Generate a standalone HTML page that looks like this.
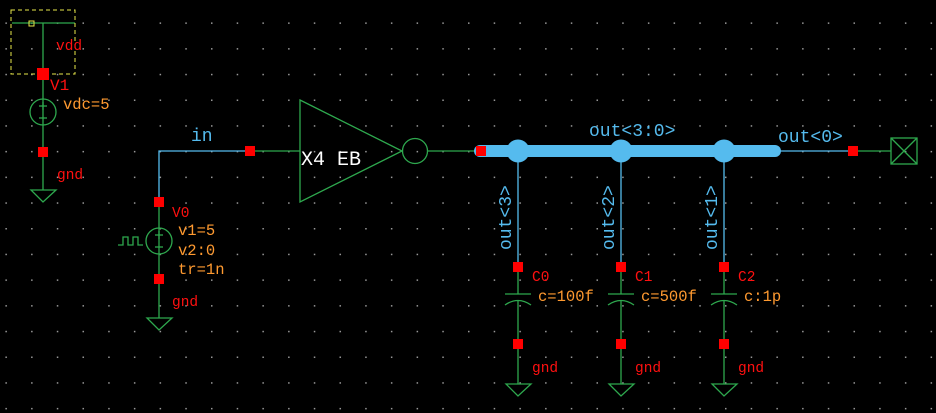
<!DOCTYPE html>
<html><head><meta charset="utf-8"><style>
html,body{margin:0;padding:0;background:#000;}
svg{display:block}
text{font-family:"Liberation Mono",monospace;font-size:14.5px}
.r{fill:#ff1010}.o{fill:#ff9a30;font-size:15.5px}.b{fill:#55bbee}
.big{font-size:18px}
</style></head><body>
<svg width="936" height="413" viewBox="0 0 936 413" xmlns="http://www.w3.org/2000/svg">
<defs><pattern id="g" x="5.4" y="22.4" width="25.7" height="25.7" patternUnits="userSpaceOnUse"><rect width="1.5" height="1.5" fill="#999"/></pattern></defs>
<rect width="936" height="413" fill="#000"/>
<rect width="936" height="413" fill="url(#g)"/>
<g stroke="#2ea84e" stroke-width="1.3" fill="none">
<line x1="12" y1="23" x2="75" y2="23"/>
<line x1="43" y1="23" x2="43" y2="190"/>
<circle cx="43" cy="112" r="13"/>
<line x1="39" y1="106" x2="47" y2="106"/><line x1="43" y1="102" x2="43" y2="110"/>
<line x1="39" y1="118" x2="47" y2="118"/>
<path d="M31 190 H56 L43 202 Z"/>
<line x1="159" y1="202" x2="159" y2="318"/>
<circle cx="159" cy="241" r="13"/>
<line x1="155" y1="235" x2="163" y2="235"/><line x1="159" y1="231" x2="159" y2="239"/>
<line x1="155" y1="247" x2="163" y2="247"/>
<path d="M118 245 H123 V237 H128 V245 H133 V237 H138 V245 H143"/>
<path d="M147 318 H172 L159 330 Z"/>
<line x1="250" y1="151" x2="300" y2="151"/>
<path d="M300 100 L402 151 L300 202 Z"/>
<circle cx="415" cy="151" r="12.5"/>
<line x1="428" y1="151" x2="480" y2="151"/>
<line x1="853" y1="151" x2="891" y2="151"/>
<rect x="891" y="138" width="26" height="26"/>
<line x1="891" y1="138" x2="917" y2="164"/><line x1="917" y1="138" x2="891" y2="164"/>
<g id="cap">
<line x1="518" y1="267" x2="518" y2="294"/>
<line x1="505" y1="294" x2="531" y2="294"/>
<path d="M505 305 Q518 296 531 305"/>
<line x1="518" y1="300" x2="518" y2="384"/>
<path d="M506 384 H531 L518 396 Z"/>
</g>
<use href="#cap" x="103"/>
<use href="#cap" x="206"/>
</g>
<rect x="11" y="10" width="64" height="64" fill="none" stroke="#e8e84a" stroke-width="1" stroke-dasharray="4,3"/>
<rect x="29" y="21" width="5" height="5" fill="none" stroke="#e8e84a" stroke-width="1"/>
<g stroke="#55bbee" fill="none">
<path d="M159 202 V151 H250" stroke-width="1.3"/>
<line x1="480" y1="151" x2="775" y2="151" stroke-width="12" stroke-linecap="round"/>
<line x1="775" y1="151" x2="853" y2="151" stroke-width="1.3"/>
<line x1="518" y1="151" x2="518" y2="267" stroke-width="1.3"/>
<line x1="621" y1="151" x2="621" y2="267" stroke-width="1.3"/>
<line x1="724" y1="151" x2="724" y2="267" stroke-width="1.3"/>
</g>
<g fill="#55bbee"><circle cx="518" cy="151" r="11.5"/><circle cx="621" cy="151" r="11.5"/><circle cx="724" cy="151" r="11.5"/></g>
<g fill="#ff0000">
<rect x="37" y="68" width="12" height="12"/><rect x="38" y="147" width="10" height="10"/>
<rect x="245" y="146" width="10" height="10"/><rect x="154" y="197" width="10" height="10"/><rect x="154" y="274" width="10" height="10"/>
<rect x="476" y="146" width="10" height="10"/><rect x="848" y="146" width="10" height="10"/>
<rect x="513" y="262" width="10" height="10"/><rect x="616" y="262" width="10" height="10"/><rect x="719" y="262" width="10" height="10"/>
<rect x="513" y="339" width="10" height="10"/><rect x="616" y="339" width="10" height="10"/><rect x="719" y="339" width="10" height="10"/>
</g>
<text x="56" y="50" class="r">vdd</text>
<text x="50" y="90" class="r" style="font-size:16px">V1</text>
<text x="63" y="109" class="o">vdc=5</text>
<text x="57" y="179" class="r">gnd</text>
<text x="191" y="141" class="b big">in</text>
<text x="172" y="217" class="r">V0</text>
<text x="178" y="235" class="o">v1=5</text>
<text x="178" y="255" class="o">v2:0</text>
<text x="178" y="274" class="o">tr=1n</text>
<text x="172" y="306" class="r">gnd</text>
<text x="301" y="165" fill="#fff" style="font-size:20px">X4 EB</text>
<text x="589" y="136" class="b big">out&lt;3:0&gt;</text>
<text x="778" y="142" class="b big">out&lt;0&gt;</text>
<text transform="translate(511,250) rotate(-90)" class="b big">out&lt;3&gt;</text>
<text transform="translate(614,250) rotate(-90)" class="b big">out&lt;2&gt;</text>
<text transform="translate(717,250) rotate(-90)" class="b big">out&lt;1&gt;</text>
<text x="532" y="281" class="r">C0</text><text x="538" y="301" class="o">c=100f</text><text x="532" y="372" class="r">gnd</text>
<text x="635" y="281" class="r">C1</text><text x="641" y="301" class="o">c=500f</text><text x="635" y="372" class="r">gnd</text>
<text x="738" y="281" class="r">C2</text><text x="744" y="301" class="o">c:1p</text><text x="738" y="372" class="r">gnd</text>
</svg>
</body></html>
